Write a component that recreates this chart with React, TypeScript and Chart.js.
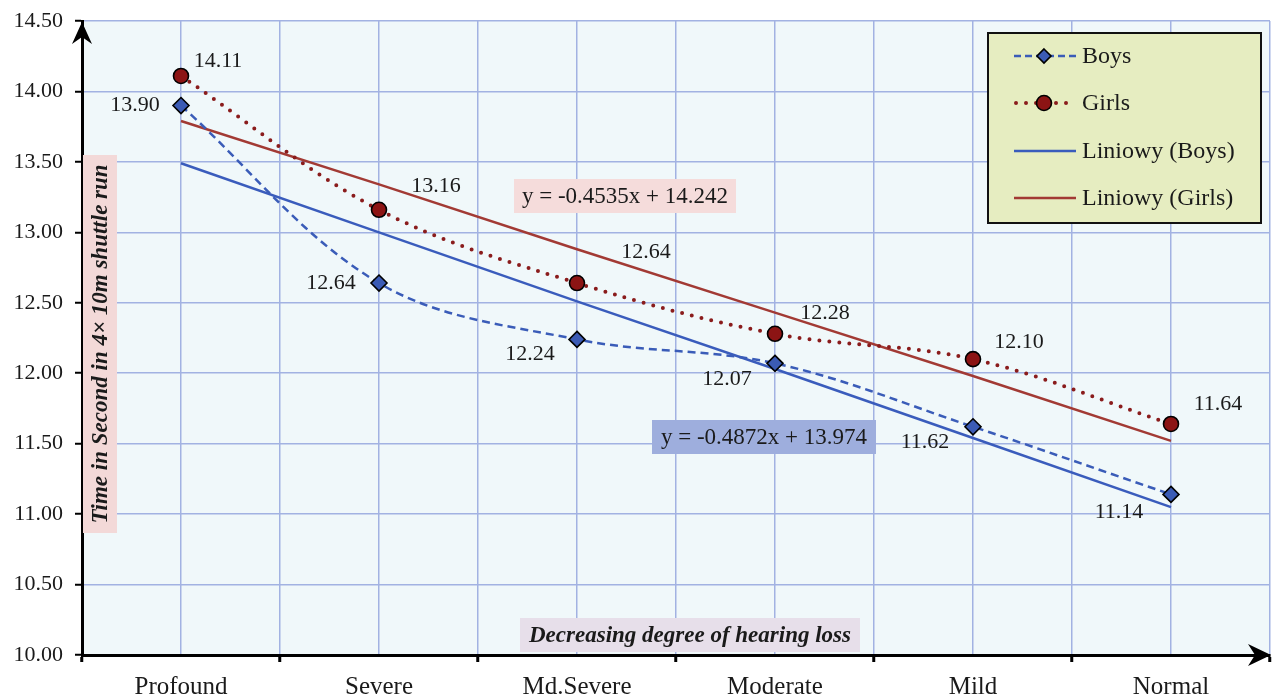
import React, { useEffect, useRef } from "react";
import { Chart, registerables } from "chart.js";

Chart.register(...registerables);

// ---------- data ----------
const categories = ["Profound", "Severe", "Md.Severe", "Moderate", "Mild", "Normal"];
const boys = [13.9, 12.64, 12.24, 12.07, 11.62, 11.14];
const girls = [14.11, 13.16, 12.64, 12.28, 12.1, 11.64];
const boysTrend = [13.49, 13.0, 12.51, 12.03, 11.54, 11.05];
const girlsTrend = [13.79, 13.34, 12.88, 12.43, 11.98, 11.52];
const yTickValues = [10.0, 10.5, 11.0, 11.5, 12.0, 12.5, 13.0, 13.5, 14.0, 14.5];
const xTickValues = [-0.5, 0, 0.5, 1, 1.5, 2, 2.5, 3, 3.5, 4, 4.5, 5, 5.5];
const seriesNames = ["Boys", "Girls", "Liniowy (Boys)", "Liniowy (Girls)"];
const boysEquation = "y = -0.4872x + 13.974";
const girlsEquation = "y = -0.4535x + 14.242";
const yTitle = "Time in Second in 4× 10m shuttle run";
const xTitle = "Decreasing degree of hearing loss";

// ---------- styles ----------
const FONT = "'Liberation Serif', 'Times New Roman', serif";
const TEXT = "#1a1a1a";
const PLOT_BG = "#f0f8fa";
const GRID = "#a2b2e2";
const BOYS_C = "#3a5cb8";
const GIRLS_C = "#8a1c1c";
const BOYS_TREND_C = "#3a5cbc";
const GIRLS_TREND_C = "#a23a34";
const BOYS_MARK = "#3b5bb5";
const GIRLS_MARK = "#8c1414";
const boysLabelOffsets = [[-46, 0], [-48, 0], [-47, 15], [-48, 16], [-48, 15], [-52, 18]];
const girlsLabelOffsets = [[37, -15], [57, -24], [69, -31], [50, -21], [46, -17], [47, -20]];

function drawDiamond(ctx: CanvasRenderingContext2D, x: number, y: number, r: number) {
  ctx.beginPath();
  ctx.moveTo(x, y - r);
  ctx.lineTo(x + r, y);
  ctx.lineTo(x, y + r);
  ctx.lineTo(x - r, y);
  ctx.closePath();
  ctx.fillStyle = BOYS_MARK;
  ctx.fill();
  ctx.lineWidth = 1.6;
  ctx.strokeStyle = "#000";
  ctx.stroke();
}

function drawCircle(ctx: CanvasRenderingContext2D, x: number, y: number, r: number) {
  ctx.beginPath();
  ctx.arc(x, y, r, 0, Math.PI * 2);
  ctx.fillStyle = GIRLS_MARK;
  ctx.fill();
  ctx.lineWidth = 1.6;
  ctx.strokeStyle = "#000";
  ctx.stroke();
}

function textBox(
  ctx: CanvasRenderingContext2D,
  text: string,
  cx: number,
  cy: number,
  bg: string,
  w: number,
  h: number,
  font: string,
  rotate = false
) {
  ctx.save();
  ctx.translate(cx, cy);
  if (rotate) ctx.rotate(-Math.PI / 2);
  ctx.fillStyle = bg;
  ctx.fillRect(-w / 2, -h / 2, w, h);
  ctx.fillStyle = TEXT;
  ctx.font = font;
  ctx.textAlign = "center";
  ctx.textBaseline = "middle";
  ctx.fillText(text, 0, 1);
  ctx.restore();
}

const overlayPlugin = {
  id: "overlay",
  beforeDraw(chart: any) {
    const { ctx, chartArea: a } = chart;
    ctx.save();
    ctx.fillStyle = "#ffffff";
    ctx.fillRect(0, 0, chart.width, chart.height);
    ctx.fillStyle = PLOT_BG;
    ctx.fillRect(a.left, a.top, a.right - a.left, a.bottom - a.top);
    ctx.restore();
  },
  afterDatasetsDraw(chart: any) {
    const { ctx } = chart;
    ctx.save();
    const mb = chart.getDatasetMeta(0);
    mb.data.forEach((p: any) => drawDiamond(ctx, p.x, p.y, 8));
    const mg = chart.getDatasetMeta(1);
    mg.data.forEach((p: any) => drawCircle(ctx, p.x, p.y, 7.5));
    ctx.font = `22px ${FONT}`;
    ctx.fillStyle = TEXT;
    ctx.textAlign = "center";
    ctx.textBaseline = "middle";
    mb.data.forEach((p: any, i: number) => {
      const [dx, dy] = boysLabelOffsets[i];
      ctx.fillText(boys[i].toFixed(2), p.x + dx, p.y + dy);
    });
    mg.data.forEach((p: any, i: number) => {
      const [dx, dy] = girlsLabelOffsets[i];
      ctx.fillText(girls[i].toFixed(2), p.x + dx, p.y + dy);
    });
    ctx.restore();
  },
  afterDraw(chart: any) {
    const { ctx, chartArea: a } = chart;
    ctx.save();
    // arrows
    ctx.fillStyle = "#000";
    ctx.beginPath();
    ctx.moveTo(a.left, a.top + 1);
    ctx.lineTo(a.left - 10, a.top + 23);
    ctx.lineTo(a.left, a.top + 16);
    ctx.lineTo(a.left + 10, a.top + 23);
    ctx.closePath();
    ctx.fill();
    ctx.beginPath();
    ctx.moveTo(a.right + 1, a.bottom);
    ctx.lineTo(a.right - 22, a.bottom - 11);
    ctx.lineTo(a.right - 15, a.bottom);
    ctx.lineTo(a.right - 22, a.bottom + 11);
    ctx.closePath();
    ctx.fill();

    // equation boxes
    const bold = `bold italic 23px ${FONT}`;
    textBox(ctx, girlsEquation, 625, 196, "#f5dcdb", 222, 34, `23px ${FONT}`);
    textBox(ctx, boysEquation, 764, 437, "#9eaedd", 224, 34, `23px ${FONT}`);
    // axis titles
    textBox(ctx, yTitle, 100, 344, "#f3d9d8", 378, 34, bold, true);
    textBox(ctx, xTitle, 690, 635, "#e7dfea", 340, 34, bold);

    // legend
    const lx = 988, ly = 33, lw = 273, lh = 190;
    ctx.fillStyle = "#e6edc1";
    ctx.fillRect(lx, ly, lw, lh);
    ctx.lineWidth = 2;
    ctx.strokeStyle = "#111";
    ctx.strokeRect(lx, ly, lw, lh);
    const rows = [56, 103, 151, 198];
    const x0 = 1014, x1 = 1076, tx = 1082;
    ctx.save();
    ctx.strokeStyle = BOYS_C;
    ctx.lineWidth = 2.5;
    ctx.setLineDash([7, 4]);
    ctx.beginPath();
    ctx.moveTo(x0, rows[0]);
    ctx.lineTo(x1, rows[0]);
    ctx.stroke();
    ctx.restore();
    drawDiamond(ctx, 1044, rows[0], 7);
    ctx.save();
    ctx.strokeStyle = GIRLS_C;
    ctx.lineWidth = 4;
    ctx.lineCap = "round";
    ctx.setLineDash([0, 10]);
    ctx.beginPath();
    ctx.moveTo(x0 + 2, rows[1]);
    ctx.lineTo(x1, rows[1]);
    ctx.stroke();
    ctx.restore();
    drawCircle(ctx, 1044, rows[1], 7.5);
    ctx.lineWidth = 2.5;
    ctx.strokeStyle = BOYS_TREND_C;
    ctx.beginPath();
    ctx.moveTo(x0, rows[2]);
    ctx.lineTo(x1, rows[2]);
    ctx.stroke();
    ctx.strokeStyle = GIRLS_TREND_C;
    ctx.beginPath();
    ctx.moveTo(x0, rows[3]);
    ctx.lineTo(x1, rows[3]);
    ctx.stroke();
    ctx.fillStyle = TEXT;
    ctx.font = `24px ${FONT}`;
    ctx.textAlign = "left";
    ctx.textBaseline = "middle";
    seriesNames.forEach((n, i) => ctx.fillText(n, tx, rows[i] + 1));
    ctx.restore();
  },
};

export default function App() {
  const ref = useRef<HTMLCanvasElement | null>(null);
  useEffect(() => {
    document.body.style.margin = "0";
    const canvas = ref.current;
    if (!canvas) return;
    const pts = (arr: number[]) => arr.map((v, i) => ({ x: i, y: v }));
    const chart = new Chart(canvas, {
      type: "line",
      data: {
        datasets: [
          {
            label: seriesNames[0],
            data: pts(boys),
            borderColor: BOYS_C,
            borderWidth: 2.5,
            borderDash: [8, 5],
            tension: 0.35,
            pointRadius: 0,
            fill: false,
          },
          {
            label: seriesNames[1],
            data: pts(girls),
            borderColor: GIRLS_C,
            borderWidth: 4,
            borderDash: [0, 10],
            borderCapStyle: "round",
            tension: 0.35,
            pointRadius: 0,
            fill: false,
          },
          {
            label: seriesNames[2],
            data: pts(boysTrend),
            borderColor: BOYS_TREND_C,
            borderWidth: 2.5,
            tension: 0,
            pointRadius: 0,
            fill: false,
          },
          {
            label: seriesNames[3],
            data: pts(girlsTrend),
            borderColor: GIRLS_TREND_C,
            borderWidth: 2.5,
            tension: 0,
            pointRadius: 0,
            fill: false,
          },
        ],
      },
      options: {
        animation: false,
        responsive: false,
        devicePixelRatio: 1,
        layout: { padding: { left: 0, top: 21, right: 3, bottom: 0 } },
        plugins: { legend: { display: false }, tooltip: { enabled: false } },
        scales: {
          x: {
            type: "linear",
            min: -0.5,
            max: 5.5,
            afterBuildTicks: (s: any) => {
              s.ticks = xTickValues.map((v) => ({ value: v }));
            },
            afterFit: (s: any) => {
              s.height = 42;
              s.paddingLeft = 0;
              s.paddingRight = 0;
              s.paddingTop = 0;
              s.paddingBottom = 0;
            },
            border: { color: "#000", width: 3 },
            grid: {
              color: GRID,
              lineWidth: 1.5,
              tickLength: 7,
              tickColor: (c: any) =>
                c.tick && Number.isInteger(c.tick.value) ? "rgba(0,0,0,0)" : "#000",
              tickWidth: 3,
            },
            ticks: {
              autoSkip: false,
              maxRotation: 0,
              padding: 10,
              color: TEXT,
              font: { family: FONT, size: 25 },
              callback: (v: any) =>
                Number.isInteger(v) && v >= 0 && v < categories.length ? categories[v] : "",
            },
          },
          y: {
            type: "linear",
            min: 10,
            max: 14.5,
            afterBuildTicks: (s: any) => {
              s.ticks = yTickValues.map((v) => ({ value: v }));
            },
            afterFit: (s: any) => {
              s.width = 82;
              s.paddingLeft = 0;
              s.paddingRight = 0;
              s.paddingTop = 0;
              s.paddingBottom = 0;
            },
            border: { color: "#000", width: 3 },
            grid: {
              color: GRID,
              lineWidth: 1.5,
              tickLength: 7,
              tickColor: "#000",
              tickWidth: 2,
            },
            ticks: {
              padding: 12,
              color: TEXT,
              font: { family: FONT, size: 22 },
              callback: (v: any) => Number(v).toFixed(2),
            },
          },
        },
      },
      plugins: [overlayPlugin],
    } as any);
    return () => chart.destroy();
  }, []);
  return (
    <div style={{ width: 1273, height: 697 }}>
      <canvas ref={ref} width={1273} height={697} style={{ display: "block" }} />
    </div>
  );
}
